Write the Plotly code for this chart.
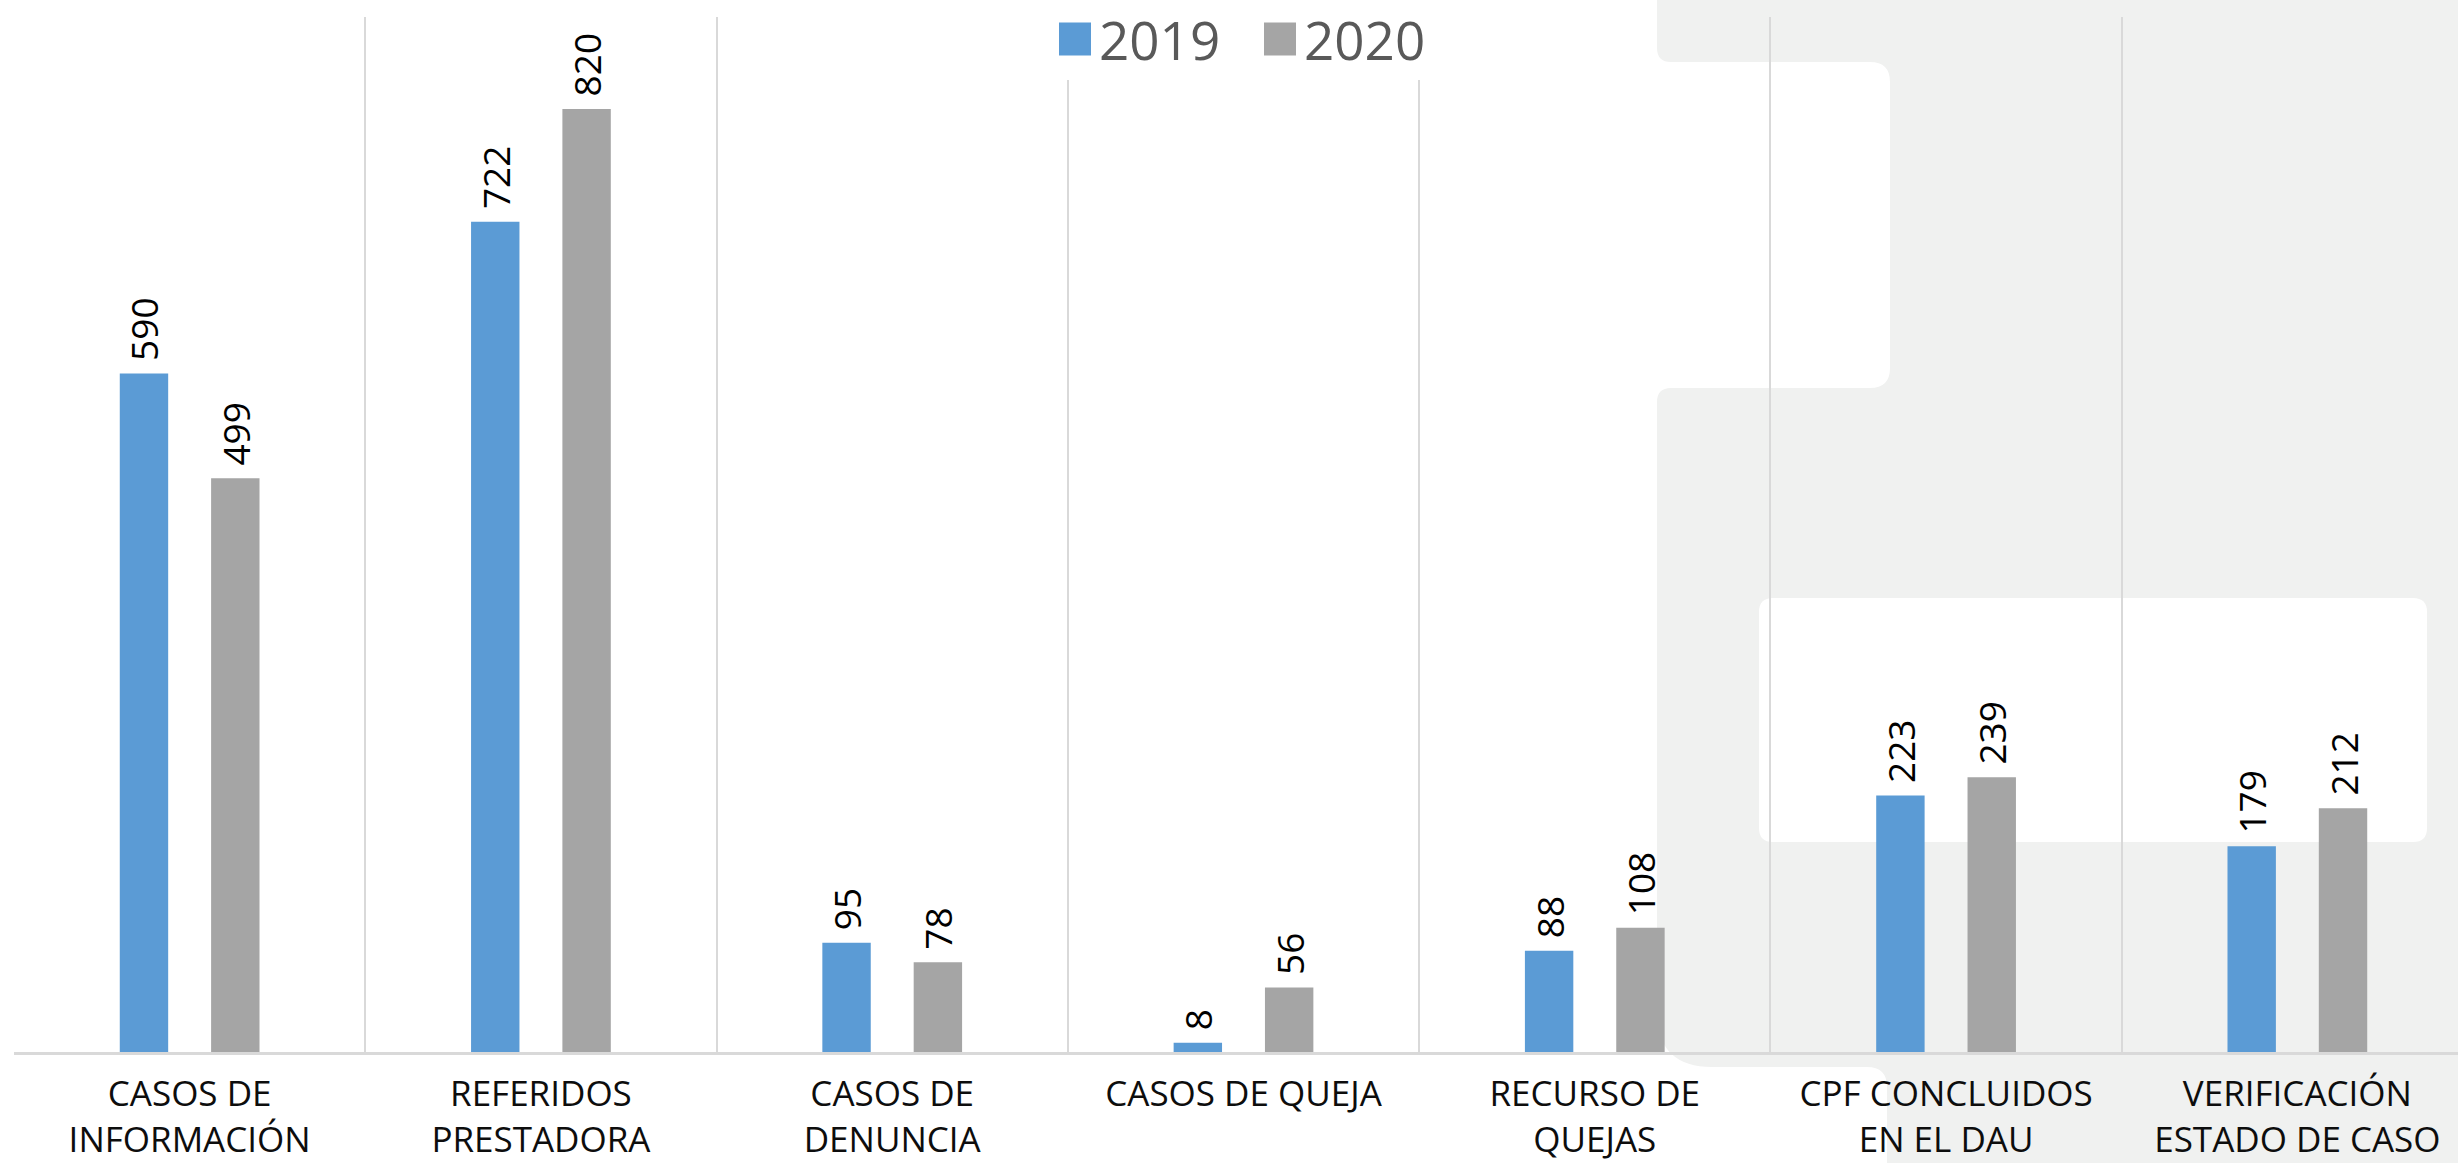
import plotly.graph_objects as go

# ---- data ----
categories = [
    "CASOS DE<br>INFORMACIÓN",
    "REFERIDOS<br>PRESTADORA",
    "CASOS DE<br>DENUNCIA",
    "CASOS DE QUEJA",
    "RECURSO DE<br>QUEJAS",
    "CPF CONCLUIDOS<br>EN EL DAU",
    "VERIFICACIÓN<br>ESTADO DE CASO",
]
series_names = ["2019", "2020"]
values_2019 = [590, 722, 95, 8, 88, 223, 179]
values_2020 = [499, 820, 78, 56, 108, 239, 212]

# ---- styles ----
W, H = 2458, 1163
L, T, R_PX, B_PX = 14, 17, 2458, 1052  # plot area in pixels
BLUE = "#5B9BD5"
GRAY = "#A5A5A5"
BG_GRAY = "#F0F1F0"
FONT = "Open Sans"


def px(x, y):
    return f"{(x - L) / (R_PX - L):.5f},{(B_PX - y) / (B_PX - T):.5f}"


fig = go.Figure()
for name, vals, col in [(series_names[0], values_2019, BLUE), (series_names[1], values_2020, GRAY)]:
    fig.add_trace(go.Bar(
        name=name, x=categories, y=vals,
        marker=dict(color=col, line=dict(width=0)),
        texttemplate="\u00a0%{y}", textposition="outside", textangle=-90,
        textfont=dict(family=FONT, size=37, color="#000000"),
        constraintext="none", cliponaxis=False,
    ))

# decorative background (light grey panel behind right part of chart)
r = 14
R2 = 20
RB = 55
gray_path = (
    "M " + px(1657, 0)
    + " L " + px(W, 0)
    + " L " + px(W, H)
    + " L " + px(1887, H)
    + " L " + px(1887, 1067 + R2)
    + " Q " + px(1887, 1067) + " " + px(1887 - R2, 1067)
    + " L " + px(1657 + RB, 1067)
    + " Q " + px(1657, 1067) + " " + px(1657, 1067 - RB)
    + " L " + px(1657, 388 + r)
    + " Q " + px(1657, 388) + " " + px(1657 + r, 388)
    + " L " + px(1890 - R2, 388)
    + " Q " + px(1890, 388) + " " + px(1890, 388 - R2)
    + " L " + px(1890, 62 + R2)
    + " Q " + px(1890, 62) + " " + px(1890 - R2, 62)
    + " L " + px(1657 + r, 62)
    + " Q " + px(1657, 62) + " " + px(1657, 62 - r)
    + " Z"
)
white_path = (
    "M " + px(1759 + r, 598)
    + " L " + px(2427 - r, 598)
    + " Q " + px(2427, 598) + " " + px(2427, 598 + r)
    + " L " + px(2427, 842 - r)
    + " Q " + px(2427, 842) + " " + px(2427 - r, 842)
    + " L " + px(1759 + r, 842)
    + " Q " + px(1759, 842) + " " + px(1759, 842 - r)
    + " L " + px(1759, 598 + r)
    + " Q " + px(1759, 598) + " " + px(1759 + r, 598)
    + " Z"
)
shapes = [
    dict(type="path", xref="paper", yref="paper", path=gray_path,
         fillcolor=BG_GRAY, line=dict(width=0), layer="below"),
    dict(type="path", xref="paper", yref="paper", path=white_path,
         fillcolor="#FFFFFF", line=dict(width=0), layer="below"),
]

cat_w = (2473 - L) / 7.0
x_right = 6.5 - (2473 - R_PX) / cat_w

fig.update_layout(
    width=W, height=H,
    margin=dict(l=L, r=W - R_PX, t=T, b=H - B_PX, autoexpand=False),
    paper_bgcolor="#FFFFFF", plot_bgcolor="rgba(0,0,0,0)",
    barmode="group", bargap=0.48, bargroupgap=0.47,
    shapes=shapes,
    showlegend=True,
    legend=dict(
        orientation="h", x=(1264 - L) / (R_PX - L), xanchor="center",
        y=(B_PX + 2) / (B_PX - T), yanchor="top",
        bgcolor="#FFFFFF", borderwidth=0,
        font=dict(family=FONT, size=53, color="#595959"),
        entrywidth=160, entrywidthmode="pixels",
    ),
    xaxis=dict(
        type="category", range=[-0.5, x_right], automargin=False,
        showgrid=True, tickson="boundaries", gridcolor="#D9D9D9", gridwidth=2,
        showline=True, linecolor="#D9D9D9", linewidth=3,
        ticks="", tickfont=dict(family=FONT, size=35, color="#0D0D0D"),
        ticklabelstandoff=9,
    ),
    yaxis=dict(range=[0, 900], showgrid=False, zeroline=False, automargin=False,
               showticklabels=False, showline=False, ticks=""),
    font=dict(family=FONT),
)

post = """
document.body.style.margin='0';
var gd = document.getElementById('{plot_id}');
function fixLegend(){
  gd.querySelectorAll('.legendpoints path').forEach(function(p){
    p.setAttribute('d','M12,16.5H-20V-16.5H12Z');
  });
}
fixLegend();
if (gd.on) { gd.on('plotly_afterplot', fixLegend); }
setTimeout(fixLegend, 300);
"""

fig.write_html("out.html", post_script=post, config={"displayModeBar": False})
